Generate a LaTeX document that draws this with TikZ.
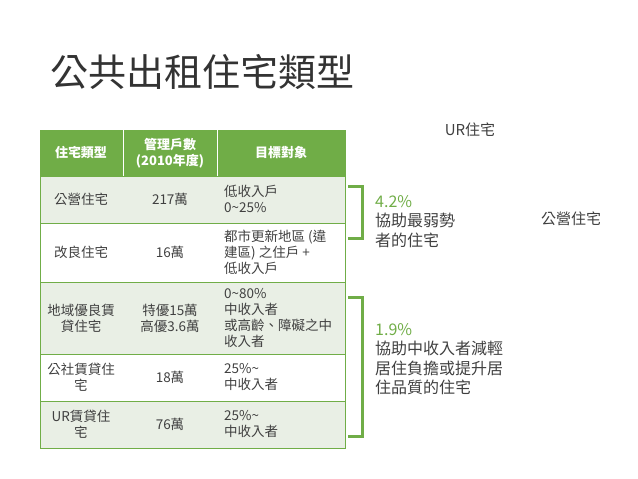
\documentclass[tikz,border=0pt]{standalone}
\usepackage{fontspec}
\setmainfont{Noto Sans CJK TC}
\definecolor{hdrgreen}{HTML}{70AD47}
\definecolor{rowgreen}{HTML}{E9EFE5}
\definecolor{txtgray}{HTML}{404040}
\begin{document}
\begin{tikzpicture}[x=1pt,y=-1pt,
  cell/.style={align=center,font=\fontsize{13.5}{16}\selectfont,text=txtgray,inner sep=1pt},
  tgt/.style={align=left,anchor=west,font=\fontsize{13.5}{16}\selectfont,text=txtgray,inner sep=1pt},
  hdr/.style={align=center,font=\bfseries\fontsize{13}{16}\selectfont,text=white},
  brace/.style={hdrgreen,line width=3pt},
  note/.style={anchor=north west,align=left,font=\fontsize{16}{19.5}\selectfont,text=txtgray,inner sep=1pt}]
\useasboundingbox (0,0) rectangle (638,479);
%%%%% Title %%%%%
\node[anchor=west,font=\fontsize{38}{42}\selectfont,text=black!80,inner sep=0pt] (title) at (50,72) {公共出租住宅類型};
%%%%% Table %%%%%
\fill[hdrgreen] (40,130) rectangle (345,176);
\fill[rowgreen] (40,176) rectangle (345,223);
\fill[rowgreen] (40,282) rectangle (345,354);
\fill[rowgreen] (40,401) rectangle (345,448);
\foreach \y in {176,223,282,354,401}{
\draw[hdrgreen,line width=0.8pt] (40,\y)--(345,\y);
}
\draw[hdrgreen,line width=0.8pt] (40,130) rectangle (345,448);
\draw[white,line width=0.6pt] (123,130)--(123,176) (217,130)--(217,176);
\node[hdr] (h1) at (81,153) {住宅類型};
\node[hdr] (h2) at (170,153) {管理戶數\\(2010年度)};
\node[hdr] (h3) at (281,153) {目標對象};
\node[cell] (a1) at (81,199) {公營住宅};
\node[cell] (b1) at (170,199) {217萬};
\node[tgt] (c1) at (223,199) {低收入戶\\0\textasciitilde25\%};
\node[cell] (a2) at (81,252) {改良住宅};
\node[cell] (b2) at (170,252) {16萬};
\node[tgt] (c2) at (223,252) {都市更新地區 (違\\建區) 之住戶 +\\低收入戶};
\node[cell] (a3) at (81,318) {地域優良賃\\貸住宅};
\node[cell] (b3) at (170,318) {特優15萬\\高優3.6萬};
\node[tgt] (c3) at (223,318) {0\textasciitilde80\%\\中收入者\\或高齡、障礙之中\\收入者};
\node[cell] (a4) at (81,377) {公社賃貸住\\宅};
\node[cell] (b4) at (170,377) {18萬};
\node[tgt] (c4) at (223,377) {25\%\textasciitilde\\中收入者};
\node[cell] (a5) at (81,424) {UR賃貸住\\宅};
\node[cell] (b5) at (170,424) {76萬};
\node[tgt] (c5) at (223,424) {25\%\textasciitilde\\中收入者};
%%%%% Brackets %%%%%
\draw[brace] (348,186)--(362,186)--(362,238)--(348,238);
\draw[brace] (348,297)--(362,297)--(362,436)--(348,436);
\node[note] (n1) at (374,194) {\textcolor{hdrgreen}{4.2\%}\\協助最弱勢\\者的住宅};
\node[note] (n2) at (374,322) {\textcolor{hdrgreen}{1.9\%}\\協助中收入者減輕\\居住負擔或提升居\\住品質的住宅};
\node[font=\fontsize{15}{18}\selectfont,text=txtgray] (ur) at (470,130) {UR住宅};
\node[font=\fontsize{15}{18}\selectfont,text=txtgray] (pub) at (571,219) {公營住宅};
\end{tikzpicture}
\end{document}
